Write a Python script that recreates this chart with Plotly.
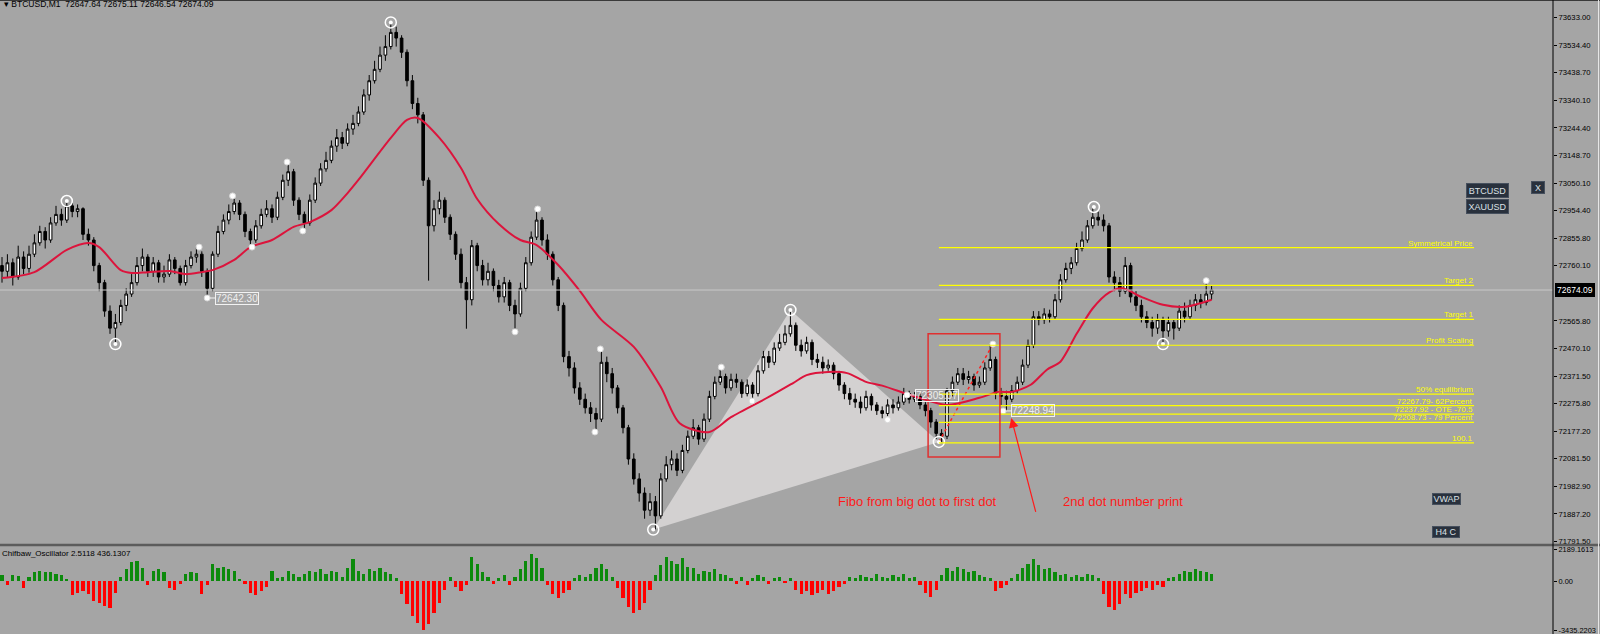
import plotly.graph_objects as go

# ---------------- data ----------------
closes = [
72740,72770,72720,72790,72750,72800,72840,72880,72850,72910,72940,72920,72970,72950,72960,72870,72850,72760,72700,72600,
72540,72560,72620,72660,72700,72760,72790,72740,72770,72720,72730,72780,72750,72700,72760,72790,72800,72740,72680,72800,
72880,72920,72950,72980,72940,72880,72850,72900,72940,72960,72930,73000,73060,73090,72990,72940,72910,72990,73050,73100,
73130,73180,73210,73190,73240,73260,73300,73360,73410,73450,73500,73530,73580,73560,73510,73410,73330,73290,73060,72900,
72960,72990,72930,72870,72800,72700,72640,72830,72760,72710,72740,72690,72650,72700,72620,72590,72680,72770,72860,72920,
72850,72800,72710,72620,72440,72400,72330,72290,72260,72240,72220,72420,72380,72330,72260,72190,72080,72010,71960,71900,
71930,71880,72010,72060,72080,72040,72110,72160,72190,72150,72220,72300,72350,72370,72330,72360,72350,72310,72340,72310,
72390,72440,72420,72470,72490,72520,72550,72480,72460,72490,72430,72420,72400,72410,72380,72340,72310,72290,72280,72260,
72300,72270,72250,72240,72270,72260,72280,72310,72290,72300,72270,72250,72210,72170,72160,72320,72350,72380,72360,72370,
72340,72350,72400,72430,72310,72300,72290,72320,72350,72410,72480,72580,72570,72590,72580,72640,72710,72750,72770,72820,
72850,72900,72930,72920,72900,72720,72700,72670,72760,72650,72620,72580,72560,72540,72570,72530,72560,72540,72600,72580,
72620,72640,72630,72660,72674.09]
highs = [
72790,72800,72785,72830,72810,72830,72870,72900,72895,72930,72970,72960,72987,72980,72975,72965,72890,72860,72770,72710,
72620,72590,72640,72680,72730,72790,72820,72800,72790,72780,72760,72800,72790,72760,72780,72810,72825,72810,72750,72810,
72900,72940,72975,73005,72990,72950,72890,72920,72960,72990,72975,73020,73080,73123,73100,73000,72950,73010,73070,73120,
73160,73200,73240,73230,73260,73290,73320,73380,73430,73480,73530,73570,73615,73600,73570,73520,73430,73350,73300,73070,
72990,73020,73000,72940,72880,72820,72720,72850,72840,72780,72770,72750,72710,72720,72710,72640,72700,72790,72880,72958,
72930,72870,72810,72720,72630,72460,72420,72350,72310,72280,72260,72467,72440,72400,72340,72270,72200,72100,72030,71980,
71960,71950,72030,72090,72110,72100,72130,72180,72220,72200,72240,72320,72370,72402,72380,72380,72380,72360,72360,72350,
72410,72460,72460,72490,72520,72550,72603,72560,72500,72510,72500,72450,72440,72430,72420,72390,72350,72330,72310,72300,
72320,72310,72280,72265,72290,72290,72300,72330,72320,72315,72310,72280,72260,72220,72185,72330,72370,72400,72400,72390,
72380,72370,72420,72484,72440,72330,72320,72340,72370,72430,72500,72600,72600,72610,72605,72660,72730,72770,72790,72840,
72880,72920,72966,72950,72940,72910,72740,72720,72790,72770,72670,72640,72600,72580,72590,72580,72580,72570,72620,72630,
72640,72660,72660,72707,72690]
lows = [
72700,72720,72690,72710,72730,72735,72790,72830,72820,72840,72900,72900,72910,72930,72930,72850,72830,72740,72670,72580,
72520,72484,72550,72600,72650,72690,72740,72720,72720,72700,72700,72720,72730,72690,72690,72750,72770,72720,72646,72670,
72790,72870,72905,72940,72920,72860,72825,72840,72890,72930,72910,72920,72990,73040,72970,72920,72883,72900,72980,73040,
73090,73120,73160,73170,73180,73220,73250,73290,73340,73400,73440,73480,73520,73530,73490,73390,73310,73260,73040,72707,
72880,72940,72910,72850,72780,72680,72538,72620,72740,72690,72690,72670,72630,72630,72600,72527,72580,72670,72760,72850,
72830,72780,72690,72600,72420,72370,72310,72270,72240,72210,72176,72210,72350,72310,72240,72170,72060,71990,71930,71870,
71880,71832,71870,72000,72040,72020,72030,72100,72150,72130,72140,72210,72290,72340,72310,72320,72330,72295,72300,72284,
72300,72380,72400,72410,72460,72480,72510,72460,72440,72450,72410,72400,72380,72390,72360,72320,72290,72270,72260,72240,
72250,72250,72235,72223,72230,72240,72250,72270,72275,72280,72255,72230,72190,72150,72140,72150,72300,72340,72340,72345,
72320,72330,72340,72390,72290,72270,72249,72280,72310,72340,72400,72470,72550,72555,72560,72570,72630,72700,72730,72760,
72810,72840,72890,72900,72880,72700,72670,72650,72660,72630,72600,72560,72540,72510,72520,72484,72510,72500,72530,72560,
72570,72600,72610,72620,72640]
opens = [72760] + closes[:-1]

# moving average
ma_idx = [0, 6, 12, 16, 18, 22, 24, 27, 31, 34, 37, 39, 43, 46, 50, 54, 57, 61, 64, 66, 72, 75, 77, 81, 85, 88,
          92, 96, 99, 103, 107, 111, 117, 122, 125.5, 131, 135, 142, 146.5, 149, 153, 156.5, 160, 163, 169, 175,
          181, 184.5, 187, 190.5, 193.5, 196, 199, 202, 205, 207.5, 211, 215, 219, 224]
ma_val = [72716, 72737, 72815, 72839, 72825, 72744, 72734, 72737, 72741, 72730, 72737, 72744, 72780, 72825, 72850,
          72896, 72913, 72955, 73015, 73061, 73209, 73272, 73279, 73209, 73103, 72994, 72906, 72850, 72832, 72762,
          72671, 72569, 72474, 72333, 72206, 72175, 72227, 72298, 72347, 72375, 72386, 72382, 72351, 72338, 72300,
          72270, 72295, 72316, 72316, 72341, 72394, 72422, 72520, 72610, 72665, 72680, 72650, 72622, 72615, 72640]

osc = [
450,-300,400,350,-500,300,600,700,600,650,500,450,150,-1000,-800,-700,-900,-1400,-1500,-1700,
-1900,-800,250,800,1300,1400,900,-300,700,800,600,-500,-600,-200,500,600,550,-900,-300,1200,
900,1000,800,700,150,-200,-800,-1000,-700,-400,700,200,300,700,500,300,500,700,600,800,
500,700,600,300,900,1500,700,500,800,700,900,600,500,200,-900,-1600,-2400,-2900,-3400,-3000,
-2200,-1500,-600,300,-400,-700,-300,1700,1200,600,300,-200,200,400,-300,300,800,1400,1900,1600,
900,-300,-900,-1200,-800,-600,200,400,300,500,900,1200,800,300,-500,-1200,-1800,-2200,-2000,-1500,
-600,400,1100,1700,1400,1200,1600,1000,900,500,700,600,800,500,400,200,-200,300,-300,200,
400,300,-200,200,300,-100,200,-600,-900,-700,-1000,-800,-600,-900,-700,-400,-200,300,200,400,
300,200,500,300,200,400,300,500,200,300,-300,-800,-1100,-600,400,900,700,1000,800,600,
700,400,300,200,-700,-500,-300,200,500,900,1200,1500,1100,800,900,600,400,500,300,400,
300,500,400,200,-900,-1800,-2000,-1600,-900,-1200,-800,-700,-500,-600,-300,-400,200,300,500,700,
600,800,700,600,500]

price_ticks = [73633.00, 73534.40, 73438.70, 73340.10, 73244.40, 73148.70, 73050.10, 72954.40, 72855.80,
               72760.10, 72565.80, 72470.10, 72371.50, 72275.80, 72177.20, 72081.50, 71982.90, 71887.20, 71791.50]
osc_ticks = [2189.1613, 0.0, -3435.2203]
osc_tick_text = ["2189.1613", "0.00", "-3435.2203"]
last_price = 72674.09

ring_x = [12, 21, 72, 120.6, 146, 173.5, 202.2, 215]
ring_y = [72987, 72484, 73615, 71832, 72604, 72140, 72966, 72484]
dot_x = [36.5, 38, 42.7, 46.3, 52.8, 55.7, 95, 99.2, 109.8, 110.8, 133.2, 138.9, 164, 167.6, 183.5, 185.4, 223]
dot_y = [72825, 72646, 73005, 72825, 73124, 72882, 72527, 72959, 72175, 72467, 72403, 72284, 72218, 72305, 72484, 72249, 72707]

label_points = [(38, 72646, "72642.30"), (167.6, 72305, "72305.07"), (185.4, 72249, "72248.94")]

fib_levels = [72823.4, 72690.7, 72571.0, 72480.0, 72308.3, 72267.79, 72237.92, 72208.73, 72136.6]
fib_labels = ["Symmetrical Price", "Target 2", "Target 1", "Profit Scaling", "50% equilibrium",
              "72267.79- 62Percent", "72237.92 - OTE -70.5", "72208.73 - 79 Percent", "100.1"]
fib_x0, fib_x1 = 173.5, 272.6

N = len(closes)
xs = list(range(N))

# ---------------- layout geometry ----------------
W, H = 1600, 634
AXIS_PX = 1553
SEP_PX = 545
SP = 5.4
x_min = -2 / SP
x_max = x_min + AXIS_PX / SP
xdom = AXIS_PX / W
price_dom = [1 - SEP_PX / H, 1]
osc_dom = [0, 1 - (SEP_PX + 1) / H]

BG = "#a5a5a5"
FONT = "Liberation Sans, Arial, sans-serif"

fig = go.Figure()

fig.add_trace(go.Candlestick(
    x=xs, open=opens, high=highs, low=lows, close=closes,
    increasing=dict(line=dict(color="black", width=1), fillcolor="white"),
    decreasing=dict(line=dict(color="black", width=1), fillcolor="black"),
    whiskerwidth=0, xaxis="x", yaxis="y", showlegend=False, hoverinfo="skip"))

fig.add_trace(go.Scatter(x=ma_idx, y=ma_val, mode="lines", line=dict(color="#dc143c", width=2, shape="spline", smoothing=0.8),
                         xaxis="x", yaxis="y", showlegend=False, hoverinfo="skip"))

# red dotted fibo line from big dot to first dot
fig.add_trace(go.Scatter(x=[ring_x[5], dot_x[14]], y=[ring_y[5], dot_y[14]], mode="lines",
                         line=dict(color="#ff2020", width=1.5, dash="dot"), xaxis="x", yaxis="y",
                         showlegend=False, hoverinfo="skip"))

fig.add_trace(go.Scatter(x=dot_x, y=dot_y, mode="markers",
                         marker=dict(color="white", size=6, line=dict(color="#d8d8d8", width=1)),
                         xaxis="x", yaxis="y", showlegend=False, hoverinfo="skip"))
fig.add_trace(go.Scatter(x=ring_x, y=ring_y, mode="markers",
                         marker=dict(symbol="circle-open", color="white", size=11, line=dict(color="white", width=1.5)),
                         xaxis="x", yaxis="y", showlegend=False, hoverinfo="skip"))
fig.add_trace(go.Scatter(x=ring_x, y=ring_y, mode="markers",
                         marker=dict(color="white", size=4),
                         xaxis="x", yaxis="y", showlegend=False, hoverinfo="skip"))

osc_colors = ["#0c8a0c" if v >= 0 else "#ff0000" for v in osc]
fig.add_trace(go.Bar(x=xs, y=osc, marker=dict(color=osc_colors, line=dict(width=0)), width=0.6,
                     xaxis="x2", yaxis="y2", showlegend=False, hoverinfo="skip"))

shapes = []
# grey harmonic triangle
tri = [(ring_x[3], ring_y[3]), (ring_x[4], ring_y[4]), (ring_x[5], ring_y[5])]
shapes.append(dict(type="path", xref="x", yref="y", layer="below",
                   path="M {},{} L {},{} L {},{} Z".format(*[c for p in tri for c in p]),
                   fillcolor="#d3d1d1", line=dict(width=0)))
# fib lines
for lv in fib_levels:
    shapes.append(dict(type="line", xref="x", yref="y", x0=fib_x0, x1=fib_x1, y0=lv, y1=lv,
                       line=dict(color="#ffff00", width=1.2)))
# current price line
shapes.append(dict(type="line", xref="paper", yref="y", x0=0, x1=xdom, y0=last_price, y1=last_price,
                   line=dict(color="#c9c9c9", width=1)))
# red rectangle
shapes.append(dict(type="rect", xref="x", yref="y", x0=171.5, x1=184.8, y0=72087, y1=72520,
                   line=dict(color="#e03030", width=1.5)))
# pane separator
sep_y = 1 - SEP_PX / H
shapes.append(dict(type="line", xref="paper", yref="paper", x0=0, x1=1, y0=sep_y, y1=sep_y,
                   line=dict(color="#5c5c5c", width=2.5)))
# top border
shapes.append(dict(type="line", xref="paper", yref="paper", x0=0, x1=1, y0=1, y1=1,
                   line=dict(color="#3a3a3a", width=2)))
# axis line
shapes.append(dict(type="line", xref="paper", yref="paper", x0=xdom, x1=xdom, y0=0, y1=1,
                   line=dict(color="black", width=1)))
# right window edge
shapes.append(dict(type="line", xref="paper", yref="paper", x0=1598.5 / W, x1=1598.5 / W, y0=0, y1=1,
                   line=dict(color="#e6e6e6", width=1)))

ann = []
for lv, lb in zip(fib_levels, fib_labels):
    ann.append(dict(x=fib_x1, y=lv, xref="x", yref="y", text=lb, showarrow=False, xanchor="right", yanchor="bottom",
                    font=dict(family=FONT, size=8, color="#ffff00"), borderpad=0, yshift=-1))

for (lx, ly, lt) in label_points:
    ann.append(dict(x=lx, y=ly, xref="x", yref="y", text=lt, showarrow=True, arrowhead=0, arrowwidth=1,
                    arrowcolor="#f2f2f2", ax=30, ay=0, standoff=3,
                    font=dict(family=FONT, size=10, color="#eeeeee"), bordercolor="#f2f2f2", borderwidth=1, borderpad=0))

# red arrow
ann.append(dict(x=186.9, y=72224, xref="x", yref="y", ax=191.5, ay=71889, axref="x", ayref="y",
                showarrow=True, arrowhead=2, arrowsize=1.6, arrowwidth=1.2, arrowcolor="#ff1a1a", text=""))
ann.append(dict(x=(917 - 2) / SP, y=71930, xref="x", yref="y", text="Fibo from big dot to first dot",
                showarrow=False, font=dict(family=FONT, size=13, color="#ff1a1a")))
ann.append(dict(x=(1123 - 2) / SP, y=71930, xref="x", yref="y", text="2nd dot number print",
                showarrow=False, font=dict(family=FONT, size=13, color="#ff1a1a")))

# headers
ann.append(dict(x=2 / W, y=1 - 4 / H, xref="paper", yref="paper", xanchor="left", yanchor="middle",
                text="▾ BTCUSD,M1  72647.64 72675.11 72646.54 72674.09", showarrow=False,
                font=dict(family=FONT, size=8.5, color="black")))
ann.append(dict(x=0, y=1 - 553 / H, xref="paper", yref="paper", xanchor="left", yanchor="middle",
                text="Chifbaw_Oscillator 2.5118 436.1307", showarrow=False,
                font=dict(family=FONT, size=8, color="black")))

# price box
ann.append(dict(x=1555 / W, y=last_price, xref="paper", yref="y", xanchor="left", yanchor="middle",
                text="72674.09", showarrow=False, bgcolor="black", bordercolor="black", borderpad=1,
                font=dict(family=FONT, size=8.5, color="white")))

# buttons
def button(cx, cy, w, h, txt):
    ann.append(dict(x=cx / W, y=1 - cy / H, xref="paper", yref="paper", xanchor="center", yanchor="middle",
                    text=txt, showarrow=False, width=w, height=h, bgcolor="#29313d", bordercolor="#46505e",
                    borderwidth=1, borderpad=0, font=dict(family=FONT, size=9, color="#dde1e6")))

button(1487.5, 190.5, 41, 13, "BTCUSD")
button(1487.5, 207, 41, 13, "XAUUSD")
button(1538, 188, 12, 11, "X")
button(1446.5, 498.5, 27, 10, "VWAP")
button(1446, 532, 26, 10, "H4 C")

fig.update_layout(
    width=W, height=H, margin=dict(l=0, r=0, t=0, b=0),
    paper_bgcolor=BG, plot_bgcolor=BG, showlegend=False, bargap=0,
    xaxis=dict(domain=[0, xdom], range=[x_min, x_max], visible=False, rangeslider=dict(visible=False),
               anchor="y"),
    xaxis2=dict(domain=[0, xdom], range=[x_min, x_max], visible=False, anchor="y2", matches="x"),
    yaxis=dict(domain=price_dom, range=[71777.6, 73693.8], side="right", anchor="x",
               tickvals=price_ticks, ticktext=["{:.2f}".format(v) for v in price_ticks],
               showgrid=False, zeroline=False, ticks="outside", ticklen=3, tickcolor="black",
               tickfont=dict(family=FONT, size=7.7, color="black"), automargin=False, ticklabeloverflow="allow"),
    yaxis2=dict(domain=osc_dom, range=[-3678, 2429], side="right", anchor="x2",
                tickvals=osc_ticks, ticktext=osc_tick_text,
                showgrid=False, zeroline=False, ticks="outside", ticklen=3, tickcolor="black",
                tickfont=dict(family=FONT, size=7.4, color="black"), automargin=False, ticklabeloverflow="allow"),
    shapes=shapes, annotations=ann,
)

fig.write_html("out.html", config={"displayModeBar": False},
               post_script="document.body.style.margin='0';document.body.style.background='%s';" % BG)
